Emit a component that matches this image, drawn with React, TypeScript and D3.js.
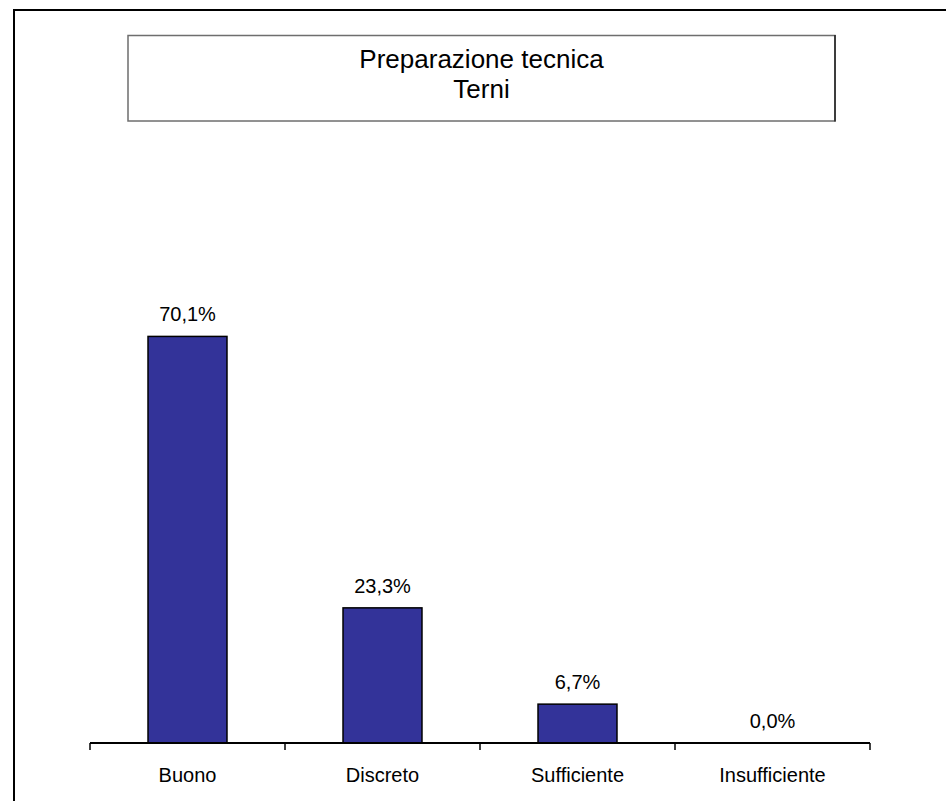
import React from "react";
import * as d3 from "d3";

// Survey results: "Preparazione tecnica", Terni
const categories: string[] = ["Buono", "Discreto", "Sufficiente", "Insufficiente"];
const values: number[] = [70.1, 23.3, 6.7, 0.0];
const titleLines: string[] = ["Preparazione tecnica", "Terni"];

const W = 946;
const H = 801;
const FONT = "Arial, 'Liberation Sans', Helvetica, sans-serif";

const fmt = (v: number) => v.toFixed(1).replace(".", ",") + "%";

export default function App() {
  const plotLeft = 90;
  const plotRight = 870;
  const baseY = 743;

  const x = d3
    .scaleBand<string>()
    .domain(categories)
    .range([plotLeft, plotRight])
    .paddingInner(0.595)
    .paddingOuter(0.2975);

  const y = d3.scaleLinear().domain([0, 100]).range([baseY, 163]);

  const step = x.step();
  const tickXs = d3.range(categories.length + 1).map((i) => plotLeft + i * step);

  return (
    <svg
      width={W}
      height={H}
      style={{ position: "absolute", left: 0, top: 0, display: "block" }}
      fontFamily={FONT}
    >
      <rect x={0} y={0} width={W} height={H} fill="#ffffff" />
      {/* chart area frame (runs off the right and bottom edges) */}
      <rect x={14} y={10} width={W + 50} height={H + 50} fill="none" stroke="#000" strokeWidth={2} />

      {/* title box */}
      <rect x={128} y={35.5} width={707} height={85.5} fill="#fff" stroke="#6e6e6e" strokeWidth={1.5} />
      <line x1={835} y1={35} x2={835} y2={121.5} stroke="#222" strokeWidth={1.5} />
      {titleLines.map((t, i) => (
        <text
          key={t}
          x={481.5}
          y={68 + i * 29.5}
          textAnchor="middle"
          fontSize={26}
          fill="#000"
        >
          {t}
        </text>
      ))}

      {/* bars */}
      {categories.map((c, i) => (
        <rect
          key={c}
          x={x(c)}
          y={y(values[i])}
          width={x.bandwidth()}
          height={baseY - y(values[i])}
          fill="#333399"
          stroke="#000"
          strokeWidth={1.5}
        />
      ))}

      {/* value labels */}
      {categories.map((c, i) => (
        <text
          key={"v" + c}
          x={(x(c) as number) + x.bandwidth() / 2}
          y={y(values[i]) - 15}
          textAnchor="middle"
          fontSize={20}
          fill="#000"
        >
          {fmt(values[i])}
        </text>
      ))}

      {/* category axis */}
      <line x1={plotLeft} y1={baseY} x2={plotRight} y2={baseY} stroke="#000" strokeWidth={2} />
      {tickXs.map((tx, i) => (
        <line key={"t" + i} x1={tx} y1={baseY} x2={tx} y2={baseY + 7} stroke="#000" strokeWidth={1.5} />
      ))}
      {categories.map((c) => (
        <text
          key={"c" + c}
          x={(x(c) as number) + x.bandwidth() / 2}
          y={782}
          textAnchor="middle"
          fontSize={20}
          fill="#000"
        >
          {c}
        </text>
      ))}
    </svg>
  );
}
